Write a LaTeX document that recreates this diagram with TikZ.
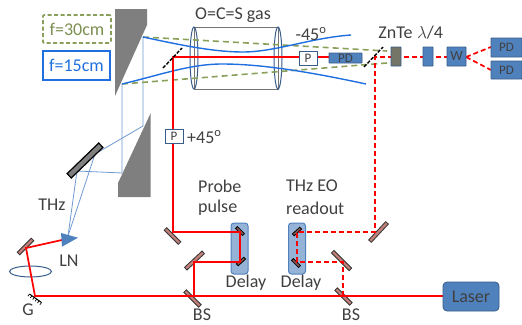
\documentclass[tikz,border=0pt]{standalone}
\usepackage{fontspec}
\setmainfont{Carlito}
\usetikzlibrary{shapes.geometric,calc}
\definecolor{txt}{HTML}{404040}
\definecolor{grayw}{HTML}{7F7F7F}
\definecolor{thinb}{HTML}{6F9BD1}
\definecolor{thickb}{HTML}{1F6FE0}
\definecolor{greend}{HTML}{8A9F5A}
\definecolor{boxb}{HTML}{4F81BD}
\definecolor{boxe}{HTML}{385D8A}
\definecolor{delayf}{HTML}{95B3D7}
\definecolor{mirf}{HTML}{C0807A}
\definecolor{redb}{HTML}{FF0000}
\tikzset{
 lab/.style={font=\fontsize{18}{20}\selectfont,text=txt,inner sep=0pt},
 labl/.style={lab,anchor=west},
 mirror/.style={draw=black!80,fill=mirf,line width=0.8pt,minimum height=3.6pt,inner sep=0pt,outer sep=0pt},
 smallm/.style={draw=black,fill=mirf!70!black,line width=0.8pt,minimum height=2.6pt,minimum width=10pt,inner sep=0pt},
 beam/.style={draw=redb,line width=1.7pt},
 dbeam/.style={beam,dash pattern=on 5pt off 3pt},
 thinray/.style={draw=thinb,line width=0.8pt},
 thickray/.style={draw=thickb,line width=1.4pt},
 greenray/.style={draw=greend,line width=1.6pt,dash pattern=on 6pt off 4pt},
 optic/.style={draw=boxe,fill=boxb,line width=0.8pt,inner sep=0pt,outer sep=0pt,text=black!75,font=\fontsize{13}{14}\selectfont,rounded corners=0.5pt},
 pol/.style={draw=boxe,fill=white,line width=1pt,inner sep=0pt,text=txt,font=\fontsize{13}{14}\selectfont,minimum width=18pt,minimum height=14pt},
 delaybox/.style={draw=boxb,fill=delayf,line width=1pt,rounded corners=3pt,minimum width=17pt,minimum height=51pt,inner sep=0pt},
 lensring/.style={ellipse,draw=boxe,line width=1pt,inner sep=0pt},
 splitter/.style={draw=black,line width=1.4pt,dash pattern=on 3.5pt off 1.5pt},
}
\begin{document}
\begin{tikzpicture}[x=1pt,y=-1pt]
\useasboundingbox (0,0) rectangle (522,324);
% points of the beams
\coordinate (gr) at (35,296);
\coordinate (mL) at (26,248);
\coordinate (bs1p) at (194,296);
\coordinate (bs2p) at (343,296);
\coordinate (m2p) at (194,262);
\coordinate (d1a) at (240,262);
\coordinate (d1b) at (240,232);
\coordinate (m1p) at (173,232);
\coordinate (top) at (173,57);
\coordinate (m4p) at (343,262);
\coordinate (d2a) at (297,262);
\coordinate (d2b) at (297,232);
\coordinate (m3p) at (375,232);
\coordinate (top2) at (375,57);
\coordinate (tA) at (143,37);
\coordinate (tB) at (122,84);
\coordinate (tC) at (143,126);
\coordinate (tD) at (122,173);
\coordinate (tE) at (95,154);
\coordinate (tF) at (77,171);
\coordinate (tG) at (68,236);
\coordinate (gr1) at (29.5,294);
\coordinate (gr2) at (41.5,302.5);
% wedge mirrors
\fill[grayw] (115,9) -- (147,9) -- (147,25) -- (115,96) -- cycle;
\fill[grayw] (150.7,113) -- (150.7,197) -- (118,197) -- (118,183) -- cycle;
% gas cell
\node[draw=black!55,line width=0.8pt,minimum width=84pt,minimum height=62pt,inner sep=0pt] (cell) at (236,58) {};
\node[lensring,minimum width=8pt,minimum height=62pt] (winL) at (194,58) {};
\node[lensring,minimum width=8pt,minimum height=62pt] (winR) at (278,58) {};
% terahertz rays
\draw[thinray] (tA) -- (tC) -- (tE) -- (tG);
\draw[thinray] (tB) -- (tD) -- (tF) -- (tG);
\draw[greenray] (tA) -- (387,51);
\draw[greenray] (tB) -- (387,63);
\draw[thickray] (tA) .. controls (185,46) and (215,52) .. (243,52) .. controls (275,52) and (310,38) .. (351,35);
\draw[thickray] (tB) .. controls (160,75) and (190,64) .. (222,64) .. controls (262,64) and (310,72) .. (366,84);
% delay stages
\node[delaybox] (del1) at (239.5,248.5) {};
\node[delaybox] (del2) at (297,248.5) {};
% mirrors
\node[mirror,draw=black,fill=grayw,line width=1.2pt,minimum width=44pt,minimum height=6pt,rotate=44] (thzm) at (85,160.5) {};
\node[mirror,minimum width=20pt,rotate=45] (mLn) at (25.5,246.5) {};
\node[mirror,minimum width=20pt,rotate=-45] (m1) at (172.5,236) {};
\node[mirror,minimum width=24pt,rotate=43] (m2) at (194.5,260.5) {};
\node[mirror,minimum width=21pt,rotate=-45] (bs1) at (192.5,298.5) {};
\node[mirror,minimum width=25pt,rotate=47] (m3) at (378.5,232) {};
\node[mirror,minimum width=25pt,rotate=-45] (m4) at (341.5,260.5) {};
\node[mirror,minimum width=21pt,rotate=-45] (bs2) at (343.5,296.5) {};
\node[smallm,rotate=-45] (dm1) at (240,231) {};
\node[smallm,rotate=42] (dm2) at (241,261.5) {};
\node[smallm,rotate=42] (dm3) at (297,231.5) {};
\node[smallm,rotate=-45] (dm4) at (296,263) {};
% grating
\draw[black,line width=1pt] (gr1) -- (gr2);
\foreach \t in {0,0.2,0.4,0.6,0.8,1}
  \draw[black,line width=0.7pt] ($(gr1)!\t!(gr2)$) -- ++(-1.6,2.2);
% lens
\node[lensring,minimum width=42pt,minimum height=11pt] (lens) at (30.5,271.5) {};
% beams
\draw[beam] (443,296) -- (gr) -- (mL) -- (62,240);
\draw[beam] (bs1p) -- (m2p) -- (d1a) -- (d1b) -- (m1p) -- (top) -- (299,57);
\draw[beam] (317,57) -- (329,57);
\draw[dbeam] (bs2p) -- (m4p) -- (d2a) -- (d2b) -- (m3p) -- (top2) -- (447,57);
\draw[dbeam] (466,57) -- (491,47);
\draw[dbeam] (466,57) -- (491,70);
% LN crystal
\fill[boxb] (61,233) -- (78,237.7) -- (62,246.7) -- cycle;
% dashed splitters
\draw[splitter] (163,68) -- (182,48);
\draw[splitter] (364,67) -- (383,47);
% optics
\node[pol] (pol1) at (174,136.5) {P};
\node[pol] (pol2) at (308,58.5) {P};
\node[optic,minimum width=33pt,minimum height=10pt] (pd0) at (345.5,58) {PD};
\node[optic,fill=black!60!yellow!55!boxe,minimum width=10pt,minimum height=19pt] (znte) at (396,56.5) {};
\node[optic,minimum width=10pt,minimum height=19pt] (qwp) at (428,56.5) {};
\node[optic,minimum width=19pt,minimum height=19pt,font=\fontsize{14}{15}\selectfont] (wol) at (456.5,56.5) {W};
\node[optic,minimum width=31pt,minimum height=19pt] (pd1) at (506.5,47.5) {PD};
\node[optic,minimum width=31pt,minimum height=18pt] (pd2) at (506.5,70) {PD};
\node[optic,rounded corners=4pt,minimum width=56pt,minimum height=29pt,font=\fontsize{18}{20}\selectfont] (laser) at (471,296.5) {Laser};
% legend
\node[draw=greend,line width=1.6pt,dash pattern=on 4pt off 2.5pt,rounded corners=1pt,minimum width=68pt,minimum height=28pt,inner sep=0pt,text=greend!90!black,font=\fontsize{18}{20}\selectfont] (f30) at (77,29) {f=30cm};
\node[draw=thickb,line width=1.2pt,minimum width=67pt,minimum height=29pt,inner sep=0pt,text=thickb,font=\fontsize{18}{20}\selectfont] (f15) at (76.5,65.5) {f=15cm};
% labels
\node[lab] (gas) at (233,15) {O=C=S gas};
\node[lab] (m45) at (311,34) {-45$^{\mathrm{o}}$};
\node[lab] (zn) at (395.5,33) {ZnTe};
\node[lab] (lam) at (430,33) {$\lambda$/4};
\node[labl] (p45) at (187,137) {+45$^{\mathrm{o}}$};
\node[lab] (thz) at (52,205) {THz};
\node[lab] (ln) at (69,261) {LN};
\node[lab] (g) at (28,310) {G};
\node[labl] (pr) at (198,186) {Probe};
\node[labl] (pu) at (198,208) {pulse};
\node[labl] (te) at (286,186) {THz EO};
\node[labl] (ro) at (286,208) {readout};
\node[lab] (de1) at (246,283) {Delay};
\node[lab] (de2) at (301,283) {Delay};
\node[lab] (b1) at (202,315) {BS};
\node[lab] (b2) at (351,315) {BS};
\end{tikzpicture}
\end{document}
